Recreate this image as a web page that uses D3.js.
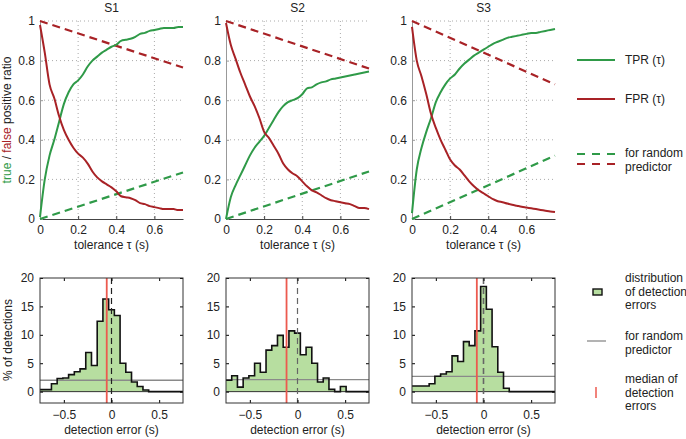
<!DOCTYPE html>
<html lang="en">
<head>
<meta charset="UTF-8">
<title>Detection performance S1-S3</title>
<style>
  body { margin: 0; padding: 0; background: #fff; font-family: "Liberation Sans", Arial, sans-serif; }
  svg text { font-family: "Liberation Sans", Arial, sans-serif; font-size: 12px; fill: #222; }
  .grid line { stroke: #aaa; stroke-width: 1; stroke-dasharray: 1,3; }
</style>
</head>
<body>
<div id="chart"></div>
<script src="https://d3js.org/d3.v7.min.js"></script>
<script>
const subjects = ["S1", "S2", "S3"];

// tolerance tau (s)
const tau = [0, 0.025, 0.05, 0.075, 0.1, 0.125, 0.15, 0.175, 0.2, 0.225, 0.25, 0.275, 0.3, 0.325, 0.35,
  0.375, 0.4, 0.425, 0.45, 0.475, 0.5, 0.525, 0.55, 0.575, 0.6, 0.625, 0.65, 0.675, 0.7, 0.725, 0.75];

const tprS1 = [0.01, 0.2, 0.32, 0.40, 0.49, 0.58, 0.64, 0.68, 0.70, 0.73, 0.77, 0.80, 0.82, 0.84, 0.855,
  0.87, 0.88, 0.90, 0.905, 0.91, 0.92, 0.935, 0.94, 0.95, 0.955, 0.96, 0.965, 0.965, 0.965, 0.97, 0.97];
const fprS1 = [0.98, 0.84, 0.68, 0.61, 0.52, 0.45, 0.40, 0.36, 0.33, 0.31, 0.28, 0.24, 0.21, 0.19, 0.175,
  0.16, 0.14, 0.115, 0.11, 0.105, 0.095, 0.08, 0.075, 0.065, 0.06, 0.055, 0.05, 0.05, 0.05, 0.045, 0.045];

const tprS2 = [0.0, 0.11, 0.17, 0.22, 0.27, 0.32, 0.36, 0.39, 0.42, 0.46, 0.50, 0.54, 0.57, 0.59, 0.60,
  0.61, 0.63, 0.66, 0.665, 0.68, 0.69, 0.695, 0.705, 0.71, 0.715, 0.72, 0.725, 0.73, 0.735, 0.74, 0.745];
const fprS2 = [0.99, 0.88, 0.81, 0.74, 0.68, 0.62, 0.57, 0.51, 0.44, 0.41, 0.37, 0.33, 0.28, 0.25, 0.23,
  0.215, 0.19, 0.165, 0.145, 0.135, 0.12, 0.105, 0.095, 0.09, 0.085, 0.08, 0.075, 0.065, 0.055, 0.055, 0.05];

const tprS3 = [0.03, 0.25, 0.36, 0.44, 0.51, 0.59, 0.64, 0.68, 0.71, 0.73, 0.76, 0.785, 0.805, 0.825, 0.84,
  0.855, 0.87, 0.885, 0.895, 0.905, 0.915, 0.92, 0.925, 0.93, 0.935, 0.94, 0.94, 0.945, 0.95, 0.955, 0.96];
const fprS3 = [0.97, 0.80, 0.72, 0.63, 0.53, 0.46, 0.40, 0.35, 0.30, 0.27, 0.25, 0.22, 0.19, 0.165, 0.145,
  0.13, 0.115, 0.10, 0.09, 0.085, 0.078, 0.072, 0.067, 0.062, 0.058, 0.054, 0.05, 0.046, 0.042, 0.038, 0.035];

// random predictor: TPR goes 0 -> value at 0.75, FPR goes 1 -> value at 0.75
const randTprEnd = [0.235, 0.24, 0.32];
const randFprEnd = [0.765, 0.76, 0.68];

// detection error histograms (bin centres, s) and % of detections
const binCenters = [-0.72, -0.66, -0.60, -0.54, -0.48, -0.42, -0.36, -0.30, -0.24, -0.18, -0.12, -0.06, 0,
  0.06, 0.12, 0.18, 0.24, 0.30, 0.36, 0.42, 0.48, 0.54, 0.60, 0.66, 0.72];
const histS1 = [0.35, 0.35, 1.4, 2.3, 2.4, 3.0, 3.5, 4.0, 6.9, 4.6, 12.4, 16.3, 14.4, 13.4, 5.0,
  3.4, 1.7, 0.9, 0.3, 0, 0, 0, 0, 0, 0];
const histS2 = [2.0, 2.8, 0.8, 2.4, 2.8, 5.0, 3.4, 7.3, 8.1, 9.9, 7.8, 10.7, 10.3, 6.5, 7.8,
  5.0, 1.7, 2.4, 0.4, 0, 0.9, 0, 0, 0, 0];
const histS3 = [1.0, 1.0, 1.0, 1.4, 2.7, 3.1, 3.5, 6.3, 5.3, 8.8, 8.1, 10.7, 18.5, 14.5, 7.9,
  3.4, 0.6, 0, 0, 0, 0, 0, 0, 0, 0];
const randLevel = [2.0, 2.1, 2.7];
const medianErr = [-0.05, -0.115, -0.07];

const tprAll = [tprS1, tprS2, tprS3];
const fprAll = [fprS1, fprS2, fprS3];
const histAll = [histS1, histS2, histS3];

const W = 686, H = 439;
const panelX = [40, 226, 412];
const panelW = 143;
const topY0 = 21, topY1 = 219;
const botY0 = 278, botY1 = 403;
const binW = 0.06;

const green = "#2f9a48", red = "#a82226", fillGreen = "#b7dea0", medRed = "#ec5a4f", gray = "#8a8a8a";

const svg = d3.select("#chart").append("svg").attr("width", W).attr("height", H);

subjects.forEach((name, i) => {
  const x0 = panelX[i];

  // ---------- top: TPR / FPR vs tolerance ----------
  const x = d3.scaleLinear().domain([0, 0.75]).range([x0, x0 + panelW]);
  const y = d3.scaleLinear().domain([0, 1]).range([topY1, topY0]);
  const g = svg.append("g");

  const grid = g.append("g").attr("class", "grid");
  grid.selectAll("line.v").data([0.2, 0.4, 0.6]).join("line")
    .attr("x1", d => x(d)).attr("x2", d => x(d)).attr("y1", topY0).attr("y2", topY1);
  grid.selectAll("line.h").data([0.2, 0.4, 0.6, 0.8, 1]).join("line")
    .attr("x1", x0).attr("x2", x0 + panelW).attr("y1", d => y(d)).attr("y2", d => y(d));

  g.append("g").attr("transform", `translate(0,${topY1})`)
    .call(d3.axisBottom(x).tickValues([0, 0.2, 0.4, 0.6]).tickFormat(d3.format("")).tickSizeInner(-3).tickSizeOuter(0).tickPadding(6))
    .call(a => a.select(".domain").attr("stroke", "#444"))
    .call(a => a.selectAll(".tick line").attr("stroke", "#444"))
    .call(a => a.selectAll("text").style("font-size", "12px"));
  g.append("g").attr("transform", `translate(${x0},0)`)
    .call(d3.axisLeft(y).tickValues([0, 0.2, 0.4, 0.6, 0.8, 1]).tickFormat(d3.format("")).tickSizeInner(-3).tickSizeOuter(0).tickPadding(5))
    .call(a => a.select(".domain").attr("stroke", "#999"))
    .call(a => a.selectAll(".tick line").attr("stroke", "#999"))
    .call(a => a.selectAll("text").style("font-size", "12px"));

  const line = d3.line().x(d => x(d[0])).y(d => y(d[1]));

  g.append("path").datum([[0, 0], [0.75, randTprEnd[i]]])
    .attr("d", line).attr("fill", "none").attr("stroke", green).attr("stroke-width", 2.2).attr("stroke-dasharray", "8,5");
  g.append("path").datum([[0, 1], [0.75, randFprEnd[i]]])
    .attr("d", line).attr("fill", "none").attr("stroke", red).attr("stroke-width", 2.2).attr("stroke-dasharray", "8,5");

  g.append("path").datum(tau.map((t, k) => [t, tprAll[i][k]]))
    .attr("d", line.curve(d3.curveMonotoneX)).attr("fill", "none").attr("stroke", green).attr("stroke-width", 2);
  g.append("path").datum(tau.map((t, k) => [t, fprAll[i][k]]))
    .attr("d", line.curve(d3.curveMonotoneX)).attr("fill", "none").attr("stroke", red).attr("stroke-width", 2);

  g.append("text").attr("x", x0 + panelW / 2).attr("y", 12).attr("text-anchor", "middle").text(name);
  g.append("text").attr("x", x0 + panelW / 2).attr("y", 249).attr("text-anchor", "middle").text("tolerance \u03c4 (s)");

  // ---------- bottom: histogram of detection errors ----------
  const xb = d3.scaleLinear().domain([-0.75, 0.75]).range([x0, x0 + panelW]);
  const yb = d3.scaleLinear().domain([-2, 20]).range([botY1, botY0]);
  const gb = svg.append("g");

  const pts = binCenters.map((c, k) => [c - binW / 2, histAll[i][k]]);
  pts.push([0.75, histAll[i][histAll[i].length - 1]]);

  gb.append("path").datum(pts)
    .attr("d", d3.area().x(d => xb(d[0])).y0(yb(0)).y1(d => yb(d[1])).curve(d3.curveStepAfter))
    .attr("fill", fillGreen);

  gb.append("line").attr("x1", x0).attr("x2", x0 + panelW).attr("y1", yb(0)).attr("y2", yb(0))
    .attr("stroke", "#333").attr("stroke-width", 1);
  gb.append("line").attr("x1", x0).attr("x2", x0 + panelW).attr("y1", yb(randLevel[i])).attr("y2", yb(randLevel[i]))
    .attr("stroke", gray).attr("stroke-width", 1.3);

  gb.append("path").datum(pts)
    .attr("d", d3.line().x(d => xb(d[0])).y(d => yb(d[1])).curve(d3.curveStepAfter))
    .attr("fill", "none").attr("stroke", "#111").attr("stroke-width", 1.6);

  gb.append("line").attr("x1", xb(0)).attr("x2", xb(0)).attr("y1", botY0).attr("y2", botY1)
    .attr("stroke", i === 0 ? "#222" : "#666").attr("stroke-width", i === 2 ? 1.6 : 1.2).attr("stroke-dasharray", "6,4");
  gb.append("line").attr("x1", xb(medianErr[i])).attr("x2", xb(medianErr[i])).attr("y1", botY0).attr("y2", botY1)
    .attr("stroke", medRed).attr("stroke-width", 1.8);

  gb.append("g").attr("transform", `translate(0,${botY1})`)
    .call(d3.axisBottom(xb).tickValues([-0.5, 0, 0.5]).tickFormat(d => d === 0 ? "0" : d3.format(".1f")(d).replace("-", "\u2212")).tickSizeInner(-3).tickSizeOuter(0).tickPadding(7))
    .call(a => a.select(".domain").remove())
    .call(a => a.selectAll("text").style("font-size", "12px"));
  gb.append("g").attr("transform", `translate(0,${botY0})`)
    .call(d3.axisTop(xb).tickValues([-0.5, 0, 0.5]).tickFormat("").tickSizeInner(-3).tickSizeOuter(0))
    .call(a => a.select(".domain").remove());
  gb.append("g").attr("transform", `translate(${x0},0)`)
    .call(d3.axisLeft(yb).tickValues([0, 5, 10, 15, 20]).tickSizeInner(-3).tickSizeOuter(0).tickPadding(6))
    .call(a => a.select(".domain").remove())
    .call(a => a.selectAll("text").style("font-size", "12px"));
  gb.append("g").attr("transform", `translate(${x0 + panelW},0)`)
    .call(d3.axisRight(yb).tickValues([0, 5, 10, 15, 20]).tickFormat("").tickSizeInner(-3).tickSizeOuter(0))
    .call(a => a.select(".domain").remove());

  gb.append("rect").attr("x", x0).attr("y", botY0).attr("width", panelW).attr("height", botY1 - botY0)
    .attr("fill", "none").attr("stroke", "#333").attr("stroke-width", 1);

  gb.append("text").attr("x", x0 + panelW / 2).attr("y", 434).attr("text-anchor", "middle").text("detection error (s)");
});

// y labels
const yl = svg.append("text").attr("transform", "translate(11,120) rotate(-90)").attr("text-anchor", "middle");
yl.append("tspan").style("fill", green).text("true");
yl.append("tspan").text(" / ");
yl.append("tspan").style("fill", red).text("false");
yl.append("tspan").text(" positive ratio");

svg.append("text").attr("transform", "translate(12,340) rotate(-90)").attr("text-anchor", "middle").text("% of detections");

// legend top
const lx = 577, tx = 625;
const legTop = svg.append("g");
legTop.append("line").attr("x1", lx).attr("x2", lx + 38).attr("y1", 60).attr("y2", 60).attr("stroke", green).attr("stroke-width", 2);
legTop.append("text").attr("x", tx).attr("y", 64).text("TPR (\u03c4)");
legTop.append("line").attr("x1", lx).attr("x2", lx + 38).attr("y1", 99).attr("y2", 99).attr("stroke", red).attr("stroke-width", 2);
legTop.append("text").attr("x", tx).attr("y", 103).text("FPR (\u03c4)");
legTop.append("line").attr("x1", lx).attr("x2", lx + 38).attr("y1", 154).attr("y2", 154).attr("stroke", green).attr("stroke-width", 2.2).attr("stroke-dasharray", "8,7");
legTop.append("line").attr("x1", lx).attr("x2", lx + 38).attr("y1", 164).attr("y2", 164).attr("stroke", red).attr("stroke-width", 2.2).attr("stroke-dasharray", "8,7");
legTop.append("text").attr("x", tx).attr("y", 157).text("for random");
legTop.append("text").attr("x", tx).attr("y", 171).text("predictor");

// legend bottom
const legBot = svg.append("g");
legBot.append("rect").attr("x", 593).attr("y", 289).attr("width", 9).attr("height", 6)
  .attr("fill", fillGreen).attr("stroke", "#111").attr("stroke-width", 1.4);
["distribution", "of detection", "errors"].forEach((t, k) => legBot.append("text").attr("x", tx).attr("y", 282 + k * 13.5).text(t));
legBot.append("line").attr("x1", 587).attr("x2", 606).attr("y1", 341).attr("y2", 341).attr("stroke", gray).attr("stroke-width", 1.3);
["for random", "predictor"].forEach((t, k) => legBot.append("text").attr("x", tx).attr("y", 340 + k * 13.5).text(t));
legBot.append("line").attr("x1", 596).attr("x2", 596).attr("y1", 387).attr("y2", 398).attr("stroke", medRed).attr("stroke-width", 1.5);
["median of", "detection", "errors"].forEach((t, k) => legBot.append("text").attr("x", tx).attr("y", 383 + k * 13.5).text(t));
</script>
</body>
</html>
